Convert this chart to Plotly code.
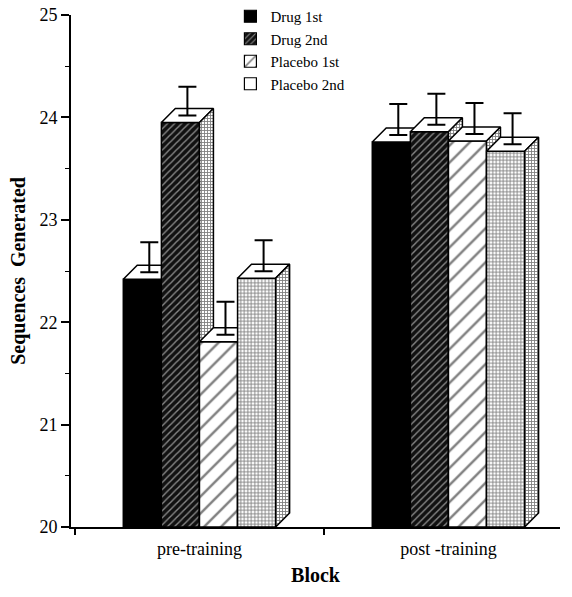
import plotly.graph_objects as go

# ---- data ----
categories = ["pre-training", "post -training"]
series = ["Drug 1st", "Drug 2nd", "Placebo 1st", "Placebo 2nd"]
drug_1st = [22.42, 23.76]
drug_2nd = [23.95, 23.86]
placebo_1st = [21.81, 23.77]
placebo_2nd = [22.43, 23.67]
# upper error (cap minus bar height)
err_drug_1st = [0.36, 0.37]
err_drug_2nd = [0.35, 0.37]
err_placebo_1st = [0.39, 0.37]
err_placebo_2nd = [0.37, 0.37]
y_ticks = [20, 21, 22, 23, 24, 25]

values = [drug_1st, drug_2nd, placebo_1st, placebo_2nd]
errors = [err_drug_1st, err_drug_2nd, err_placebo_1st, err_placebo_2nd]

# ---- style ----
BASE = 20
W = 0.153      # bar width (category units)
DX = 0.056     # depth offset in x
DY = 0.137     # depth offset in y
LINE = dict(color="black", width=1.5)
FONT = "Liberation Serif, Times New Roman, serif"

styles = [
    dict(fillcolor="black", pattern=None),
    dict(fillcolor="#111111", pattern=dict(shape="/", size=5, solidity=0.28, fgcolor="white", bgcolor="#111111")),
    dict(fillcolor="white", pattern=dict(shape="/", size=12, solidity=0.2, fgcolor="black", bgcolor="white")),
    dict(fillcolor="white", pattern=dict(shape="+", size=3.5, solidity=0.45, fgcolor="black", bgcolor="white")),
]
side_pattern = dict(shape="+", size=3, solidity=0.5, fgcolor="black", bgcolor="white")

fig = go.Figure()


def poly(xs, ys, fillcolor="white", pattern=None):
    kw = dict(x=xs + [xs[0]], y=ys + [ys[0]], mode="lines", fill="toself",
              fillcolor=fillcolor, line=LINE, showlegend=False, hoverinfo="skip")
    if pattern is not None:
        kw["fillpattern"] = pattern
    fig.add_trace(go.Scatter(**kw))


n = len(series)
for g, cat in enumerate(categories):
    for s in range(n):
        v = values[s][g]
        x0 = g + (s - n / 2) * W
        x1 = x0 + W
        st = styles[s]
        # front face
        poly([x0, x1, x1, x0], [BASE, BASE, v, v], st["fillcolor"], st["pattern"])
        # top face
        poly([x0, x1, x1 + DX, x0 + DX], [v, v, v + DY, v + DY], "white")
        # side face
        poly([x1, x1 + DX, x1 + DX, x1], [BASE, BASE + DY, v + DY, v], "white", side_pattern)

# error bars from the centre of the top face
for s in range(n):
    xs = [g + (s - n / 2) * W + W / 2 + DX / 2 for g in range(len(categories))]
    ys = [values[s][g] + DY / 2 for g in range(len(categories))]
    arr = [errors[s][g] - DY / 2 for g in range(len(categories))]
    fig.add_trace(go.Scatter(
        x=xs, y=ys, mode="markers", marker=dict(size=1, color="rgba(0,0,0,0)"),
        error_y=dict(type="data", array=arr, arrayminus=[0] * len(arr), symmetric=False,
                     color="black", thickness=2, width=9),
        showlegend=False, hoverinfo="skip"))

# legend entries
for s, name in enumerate(series):
    st = styles[s]
    marker = dict(color=st["fillcolor"], line=dict(color="black", width=1.2))
    if st["pattern"] is not None:
        p = dict(st["pattern"])
        if s == 3:
            p = dict(shape="", fgcolor="black", bgcolor="white")
        marker["pattern"] = p
    fig.add_trace(go.Bar(x=[None], y=[None], name=name, marker=marker, showlegend=True))

fig.update_layout(
    width=572, height=597,
    margin=dict(l=71, r=12, t=15, b=70, autoexpand=False),
    paper_bgcolor="white", plot_bgcolor="white",
    font=dict(family=FONT, size=16, color="black"),
    showlegend=True,
    legend=dict(x=0.326, y=1.008, xref="paper", yref="container", xanchor="left", yanchor="top",
                bgcolor="rgba(0,0,0,0)", font=dict(family=FONT, size=15),
                tracegroupgap=0, itemwidth=30),
    xaxis=dict(range=[-0.516, 1.448], tickvals=[0, 1], ticktext=categories,
               ticks="", showgrid=False, zeroline=False,
               showline=True, linecolor="black", linewidth=2,
               ticklabelstandoff=4, ticklabeloverflow="allow",
               minor=dict(tick0=0.5, dtick=1, ticks="outside", ticklen=6, tickcolor="black", tickwidth=1.5),
               title=dict(text="<b>Block</b>", font=dict(family=FONT, size=20), standoff=10),
               tickfont=dict(family=FONT, size=18)),
    yaxis=dict(range=[20, 25], tickvals=y_ticks, ticks="outside", ticklen=8, tickwidth=1.5,
               tickcolor="black", showgrid=False, zeroline=False,
               showline=True, linecolor="black", linewidth=2,
               ticklabeloverflow="allow",
               minor=dict(tick0=20.5, dtick=1, ticks="outside", ticklen=4, tickcolor="black", tickwidth=1),
               title=dict(text="<b>Sequences  Generated</b>", font=dict(family=FONT, size=20), standoff=8),
               tickfont=dict(family=FONT, size=18)),
)

# remove the default 8px page margin so the figure fills the window exactly
fig.write_html("out.html", config={"displayModeBar": False},
               post_script="document.body.style.margin='0';")
